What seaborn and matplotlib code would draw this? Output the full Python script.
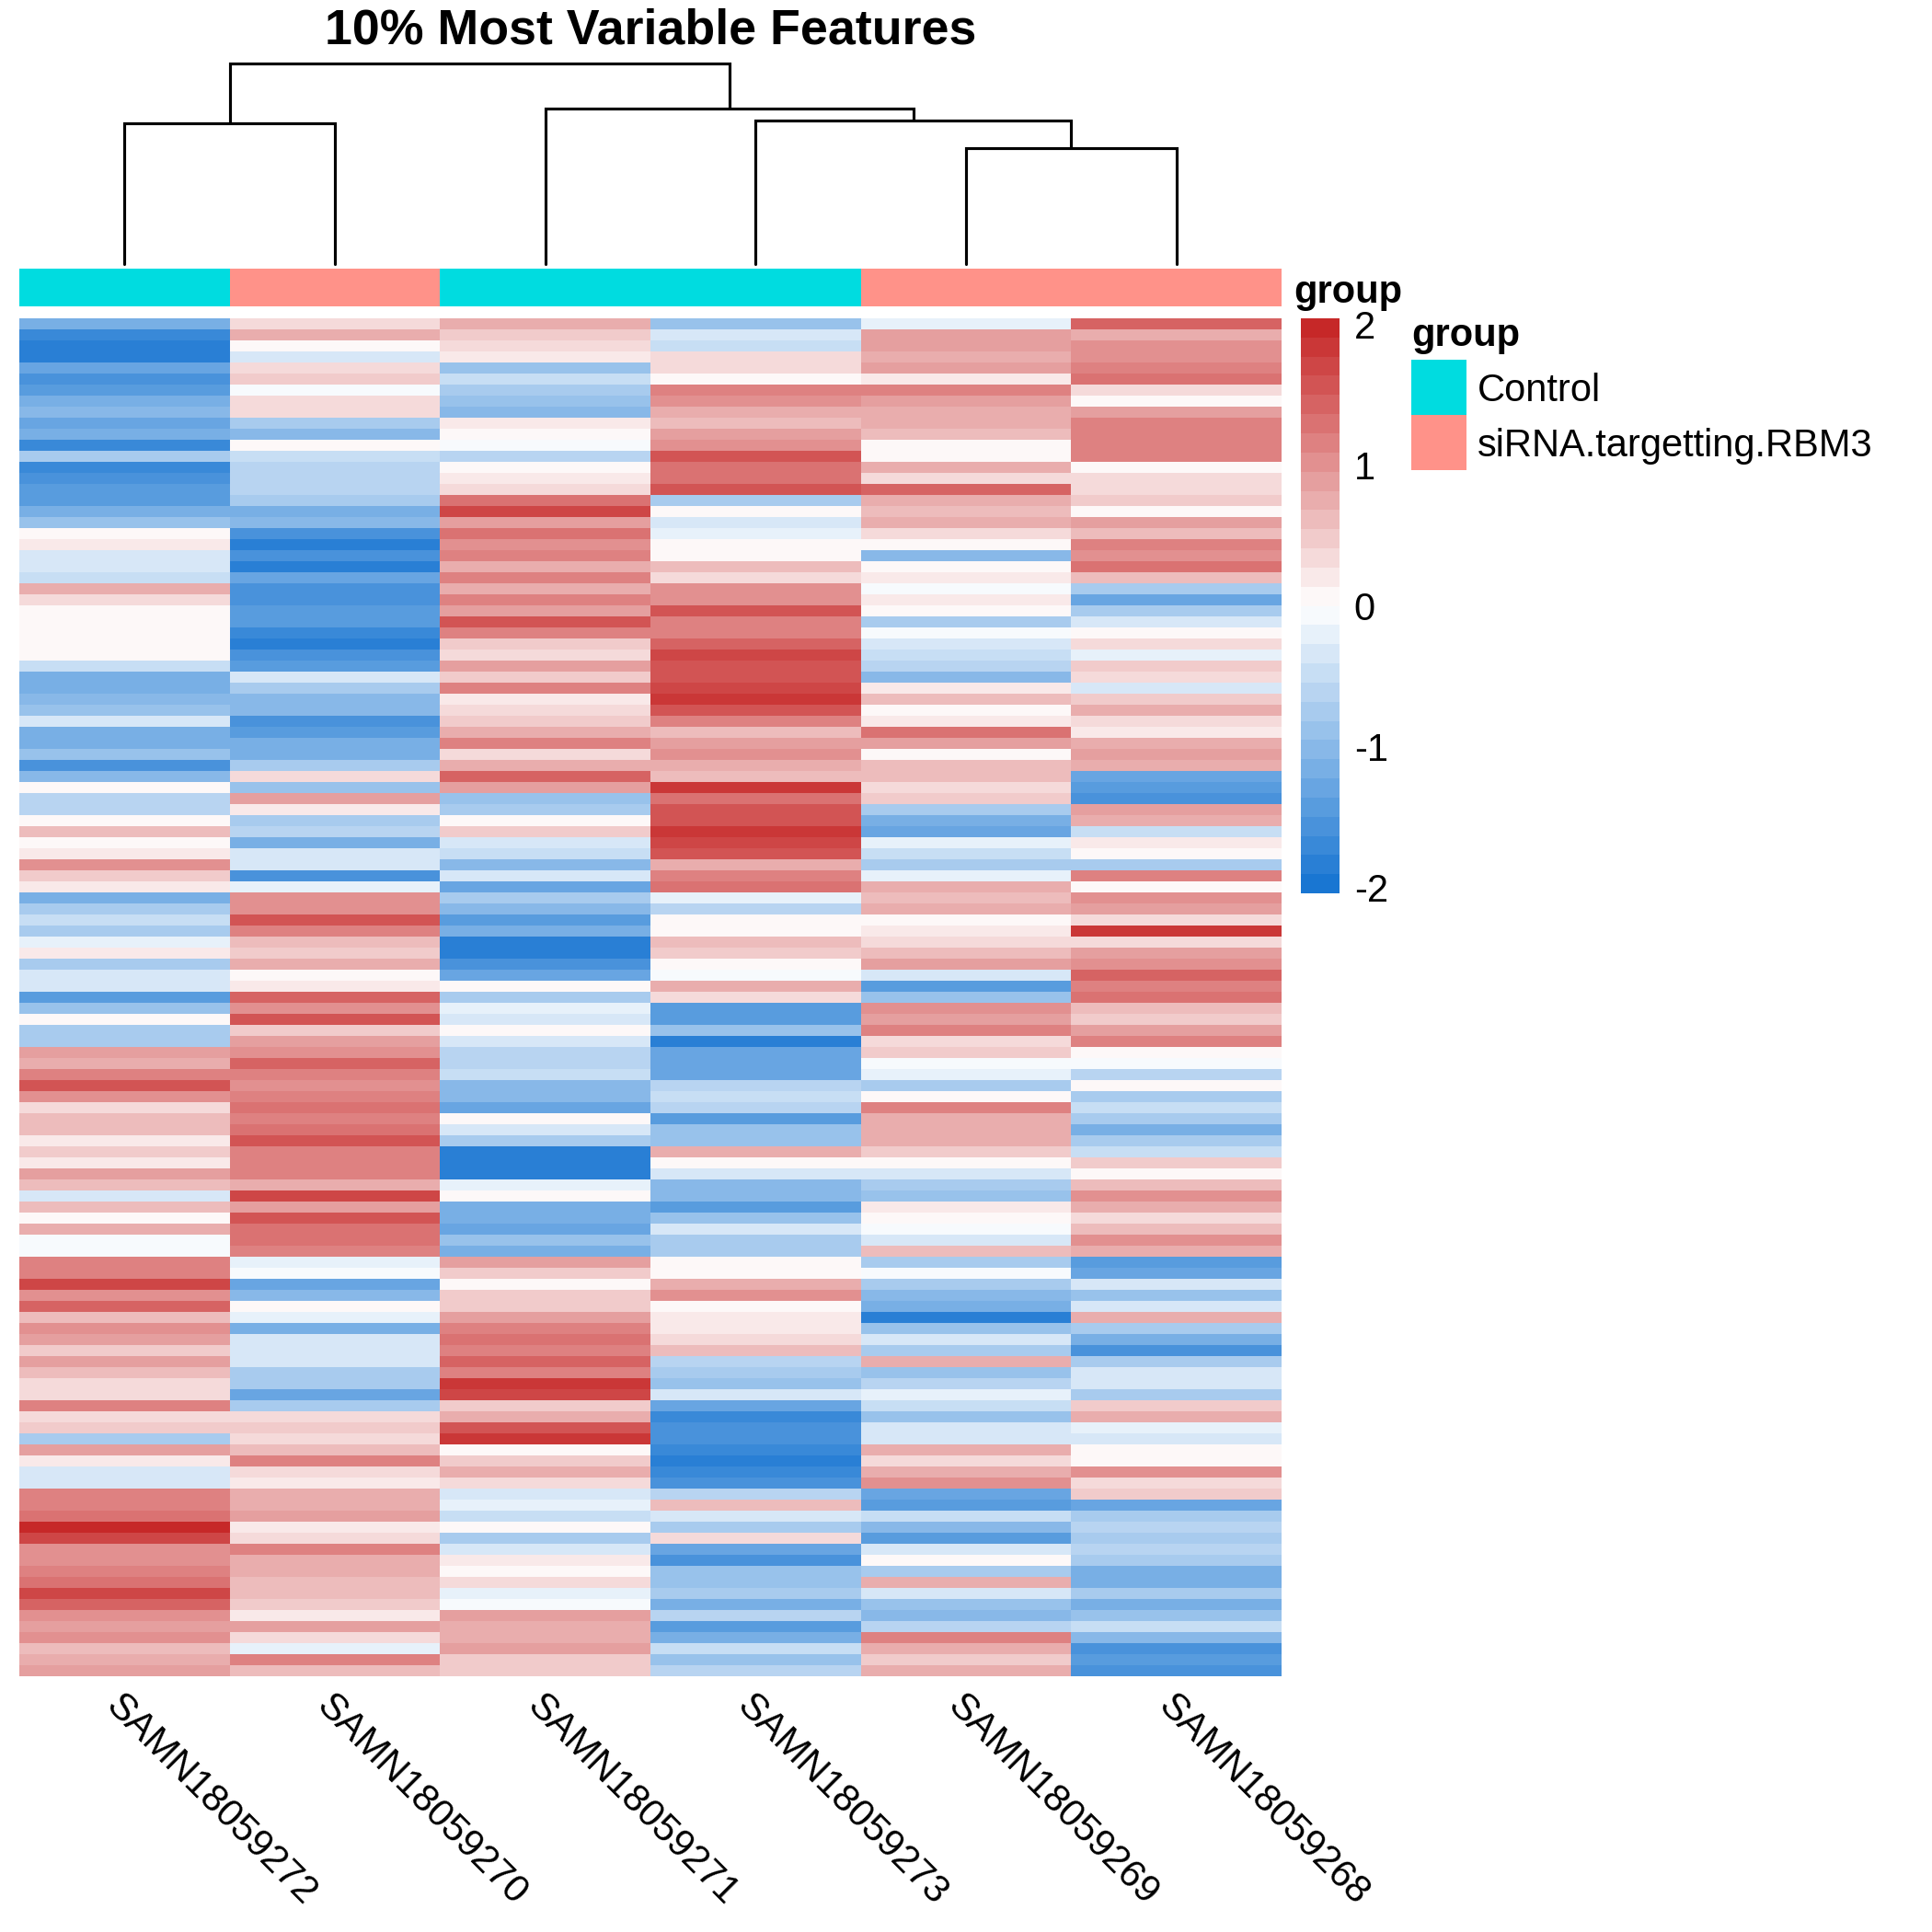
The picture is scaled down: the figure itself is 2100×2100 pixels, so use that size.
import matplotlib
matplotlib.use("Agg")
import matplotlib.pyplot as plt
from matplotlib.colors import LinearSegmentedColormap, ListedColormap
import numpy as np
import pandas as pd
import seaborn as sns

sns.set_theme(style="white")
plt.rcParams['font.family'] = ['Liberation Sans', 'DejaVu Sans']
plt.rcParams['text.color'] = 'black'
plt.rcParams['xtick.color'] = 'black'
plt.rcParams['ytick.color'] = 'black'

samples = ["SAMN18059272", "SAMN18059270", "SAMN18059271", "SAMN18059273", "SAMN18059269", "SAMN18059268"]
groups = ["Control", "siRNA.targetting.RBM3", "Control", "Control", "siRNA.targetting.RBM3", "siRNA.targetting.RBM3"]
group_names = ["Control", "siRNA.targetting.RBM3"]
group_colors = ["#00DCE0", "#FF9289"]
title = "10% Most Variable Features"
cbar_ticks = [-2, -1, 0, 1, 2]

# merges: (left node, right node, height); nodes 0-5 are leaves, 6+ are earlier merges
merge_left = [0, 4, 3, 2, 6]
merge_right = [1, 5, 7, 8, 9]
merge_height = [0.702, 0.578, 0.716, 0.775, 1.0]

SAMN18059272 = [
 -1.1,-1.7,-1.8,-1.9,-1.3,-1.5,-1.4,-1.2,-1.0,-1.3,-1.1,-1.7,-0.8,-1.7,-1.6,-1.4,-1.4,-1.1,-0.9,0.1,0.2,-0.4,-0.4,-0.5,0.7,0.3,0.0,0.0,0.1,0.1,0.0,-0.5,-1.1,-1.1,-1.0,-0.9,-0.4,-1.1,-1.2,-0.9,-1.5,-1.0,0.0,
 -0.6,-0.6,0.1,0.6,0.0,0.2,1.0,0.5,0.2,-1.1,-0.8,-0.5,-0.7,-0.2,0.2,-0.8,-0.3,-0.3,-1.4,-0.9,0.0,-0.8,-0.8,0.9,0.8,1.2,1.5,1.0,0.3,0.6,0.6,0.2,0.5,0.2,0.9,0.6,-0.3,0.6,0.0,0.7,-0.1,-0.1,1.2,
 1.2,1.7,1.0,1.4,0.6,1.0,0.9,0.5,0.9,0.6,0.4,0.4,1.1,0.3,0.5,-0.7,0.9,0.2,-0.3,-0.4,1.2,1.1,1.3,2.0,1.7,1.0,1.0,1.2,1.3,1.7,1.4,1.0,0.9,1.0,0.6,0.7,0.9]
SAMN18059270 = [
 0.4,0.7,0.0,-0.3,0.4,0.5,-0.1,0.3,0.3,-0.7,-1.0,0.0,-0.5,-0.6,-0.6,-0.6,-0.7,-1.1,-1.0,-1.6,-1.8,-1.5,-1.8,-1.3,-1.6,-1.5,-1.4,-1.4,-1.7,-1.8,-1.5,-1.4,-0.3,-0.8,-1.0,-1.0,-1.6,-1.4,-1.1,-1.2,-0.7,0.3,-0.9,
 0.9,0.2,-0.8,-0.6,-1.1,-0.3,-0.3,-1.6,-0.2,1.0,1.0,1.6,1.1,0.6,0.5,0.7,0.0,0.2,1.4,1.0,1.6,0.5,0.9,1.0,1.4,1.1,1.0,1.2,1.3,1.1,1.3,1.5,1.2,1.2,1.2,0.8,1.7,0.9,1.6,1.3,1.3,1.2,-0.2,
 -0.1,-1.3,-1.0,0.0,-0.2,-1.1,-0.4,-0.3,-0.3,-0.8,-0.7,-1.3,-0.7,0.4,0.5,0.3,0.6,1.2,0.4,0.2,0.8,0.7,0.9,0.2,0.3,1.1,0.8,0.7,0.6,0.6,0.5,0.2,0.9,0.4,-0.2,1.1,0.6]
SAMN18059271 = [
 0.7,0.5,0.3,0.2,-0.9,-0.5,-0.8,-0.9,-1.0,0.2,0.1,-0.1,-0.6,0.1,0.2,0.3,1.3,1.7,0.9,1.3,1.0,1.2,0.8,1.1,0.8,1.2,0.9,1.6,1.2,0.5,0.4,0.9,0.5,1.1,0.2,0.3,0.5,0.7,1.1,0.4,0.8,1.4,0.9,
 -0.9,-0.7,0.0,0.5,-0.4,-0.5,-1.0,-0.3,-1.3,-0.8,-1.0,-1.4,-1.2,-1.9,-1.9,-1.6,-1.3,0.0,-0.8,-0.2,-0.4,0.0,-0.4,-0.6,-0.6,-0.5,-1.0,-1.0,-1.3,0.0,-0.3,-0.7,-1.9,-1.8,-1.8,-0.2,0.0,-1.2,-1.1,-1.3,-0.9,-1.2,0.9,
 0.5,0.0,0.5,0.5,0.9,1.2,1.3,1.2,1.4,1.2,1.9,1.7,0.5,0.7,1.5,1.8,0.1,0.5,0.7,0.4,-0.3,-0.2,-0.5,0.0,-0.7,-0.3,0.2,0.1,0.4,-0.2,-0.1,0.9,0.8,0.7,0.9,0.5,0.5]
SAMN18059273 = [
 -0.9,-0.3,-0.5,0.4,0.3,0.0,1.2,1.0,0.8,0.6,0.9,1.0,1.5,1.3,1.3,1.5,-0.8,0.1,-0.4,-0.2,0.0,0.0,0.6,0.4,1.0,1.0,1.5,1.1,1.1,1.4,1.7,1.5,1.6,1.7,1.8,1.5,1.2,0.6,0.9,1.0,0.8,0.6,1.9,
 1.3,1.6,1.5,1.8,1.7,1.6,0.8,1.2,1.3,-0.2,-0.6,0.0,0.1,0.6,0.5,0.1,-0.1,0.7,0.4,-1.4,-1.4,-0.9,-1.8,-1.3,-1.3,-1.3,-0.6,-0.5,-0.6,-1.4,-0.9,-0.9,0.7,0.1,-0.3,-1.0,-1.0,-1.4,-0.9,-0.3,-0.8,-0.7,0.0,
 0.0,0.7,1.0,0.1,0.2,0.2,0.3,0.6,-0.6,-0.8,-0.9,-0.4,-1.3,-1.7,-1.6,-1.5,-1.7,-1.8,-1.7,-1.5,-0.6,0.6,-0.4,-0.8,0.3,-1.3,-1.5,-0.9,-0.9,-0.8,-1.1,-0.6,-1.4,-1.2,-0.5,-0.9,-0.6]
SAMN18059269 = [
 -0.2,0.9,0.9,0.8,0.9,0.2,1.1,0.9,0.8,0.7,0.6,0.1,0.1,0.8,0.3,1.4,0.8,0.6,0.8,0.4,0.0,-1.0,0.1,0.2,-0.1,0.2,0.1,-0.7,-0.1,-0.3,-0.5,-0.6,-1.0,0.2,0.6,0.0,0.2,1.3,0.9,0.0,0.6,0.6,0.4,
 0.5,-0.8,-1.1,-1.3,-0.2,-0.5,-0.7,-0.2,0.7,0.6,0.7,0.1,0.2,0.4,0.6,0.9,-0.4,-1.4,-0.9,1.0,0.9,1.1,0.3,0.5,-0.1,-0.2,-0.7,0.1,1.2,0.7,0.7,0.8,0.5,0.1,-0.3,-0.7,-0.9,0.2,0.1,-0.1,-0.3,0.6,-0.7,
 -0.1,-0.7,-1.0,-1.1,-1.8,-0.9,-0.3,-0.7,0.8,-0.9,-0.6,-0.2,-0.5,-0.9,-0.4,-0.3,0.8,0.4,0.7,1.0,-1.3,-1.4,-0.5,-1.0,-1.4,-0.4,0.0,-0.8,0.8,-0.4,-0.9,-1.0,-0.6,1.2,0.7,0.5,0.8]
SAMN18059268 = [
 1.4,0.7,1.0,1.0,1.2,1.3,0.3,0.0,0.9,1.2,1.1,1.2,1.2,0.1,0.4,0.4,0.5,0.1,0.9,0.6,1.2,1.0,1.3,0.6,-0.8,-1.3,-0.8,-0.3,0.0,0.3,-0.2,0.5,0.4,-0.4,0.5,0.7,0.4,0.2,0.7,0.9,0.8,-1.3,-1.4,
 -1.5,0.9,0.8,-0.5,0.2,0.0,-0.8,1.2,0.1,1.0,0.9,0.3,1.8,0.3,0.9,1.0,1.4,1.2,1.3,0.6,0.5,0.9,1.2,0.0,-0.1,-0.6,0.0,-0.7,-0.5,-0.8,-1.1,-0.8,-0.5,0.5,0.0,0.6,1.0,0.7,0.3,0.6,1.0,0.8,-1.4,
 -1.3,-0.3,-0.9,-0.4,0.8,-0.7,-1.1,-1.6,-0.8,-0.4,-0.3,-0.8,0.5,0.8,-0.2,-0.3,0.0,0.1,1.0,0.3,0.5,-1.3,-0.7,-0.6,-0.7,-0.6,-0.7,-1.2,-1.1,-0.8,-1.1,-0.9,-0.5,-1.0,-1.5,-1.4,-1.6]

W, H = 2100, 2100
fig = plt.figure(figsize=(7, 7), dpi=300, facecolor="white")

def axes_px(x0, y0, x1, y1):
    return fig.add_axes([x0 / W, 1 - y1 / H, (x1 - x0) / W, (y1 - y0) / H])

matrix = pd.DataFrame({
    "SAMN18059272": SAMN18059272, "SAMN18059270": SAMN18059270, "SAMN18059271": SAMN18059271,
    "SAMN18059273": SAMN18059273, "SAMN18059269": SAMN18059269, "SAMN18059268": SAMN18059268,
})[samples]

cmap = LinearSegmentedColormap.from_list("rb", ["#1976D2", "#FFFFFF", "#C62828"], N=30)

ax = axes_px(21, 346, 1393, 1822)
cax = axes_px(1414, 346, 1456, 971)
sns.heatmap(matrix, ax=ax, cmap=cmap, vmin=-2.04, vmax=2.04, cbar_ax=cax,
            xticklabels=True, yticklabels=False, rasterized=True)
ax.set_xlabel(""); ax.set_ylabel("")
ax.set_xticklabels(samples, rotation=-45, ha="left", va="top", rotation_mode="anchor", fontsize=10)
ax.tick_params(axis="x", length=0, pad=3.0)

cb = ax.collections[0].colorbar
cb.set_ticks(cbar_ticks)
cb.set_ticklabels([str(t) for t in cbar_ticks])
cb.ax.tick_params(length=0, labelsize=10, pad=3.8)
cb.outline.set_visible(False)
fig.text(1406 / W, 1 - 318 / H, "group", fontsize=10, fontweight="bold", ha="left", va="center")

# annotation strip
anno = axes_px(21, 292, 1393, 333)
codes = pd.DataFrame([[group_names.index(g) for g in groups]], columns=samples)
sns.heatmap(codes, ax=anno, cmap=ListedColormap(group_colors), vmin=0, vmax=1, cbar=False,
            xticklabels=False, yticklabels=False)
anno.set_xlabel(""); anno.set_ylabel("")

# dendrogram
dend = axes_px(21, 69, 1393, 287)
dend.set_xlim(0, len(samples)); dend.set_ylim(0, 1); dend.axis("off")
pos = {i: (i + 0.5, 0.0) for i in range(len(samples))}
for k, (l, r, h) in enumerate(zip(merge_left, merge_right, merge_height)):
    xl, yl = pos[l]; xr, yr = pos[r]
    dend.plot([xl, xl, xr, xr], [yl, h, h, yr], color="black", lw=0.75,
              solid_joinstyle="miter", clip_on=False)
    pos[len(samples) + k] = ((xl + xr) / 2, h)

# legend
leg = axes_px(1534, 391, 1594, 511)
lcodes = pd.DataFrame({"g": list(range(len(group_names)))})
sns.heatmap(lcodes, ax=leg, cmap=ListedColormap(group_colors), vmin=0, vmax=1, cbar=False,
            xticklabels=False, yticklabels=False)
leg.set_xlabel(""); leg.set_ylabel("")
fig.text(1534 / W, 1 - 365 / H, "group", fontsize=10, fontweight="bold", ha="left", va="center")
for name, yp in zip(group_names, [425, 485]):
    fig.text(1606 / W, 1 - yp / H, name, fontsize=10, ha="left", va="center")

fig.text(707 / W, 1 - 34 / H, title, fontsize=12.9, fontweight="bold", ha="center", va="center")

fig.savefig("out.png", dpi=300, facecolor="white")
